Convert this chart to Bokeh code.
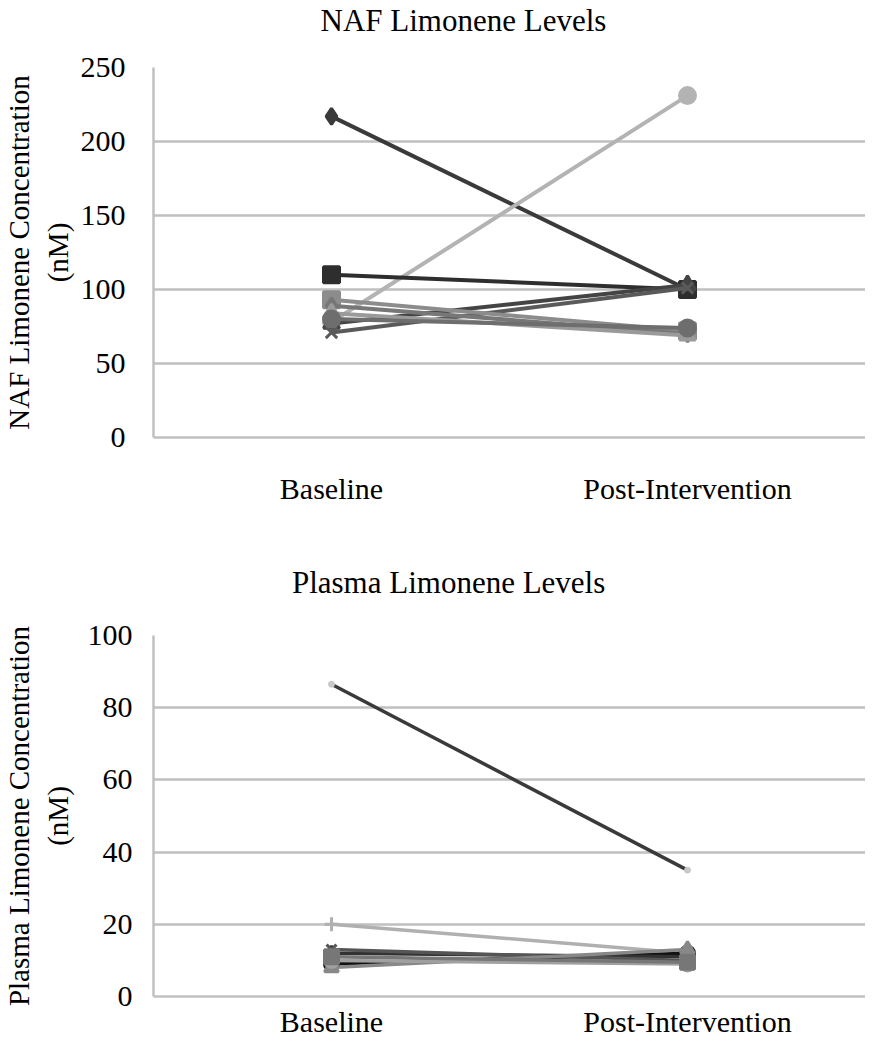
from bokeh.plotting import figure
from bokeh.models import FixedTicker, Range1d, ColumnDataSource
from bokeh.core.properties import value
from bokeh.layouts import column
from bokeh.embed import file_html
from bokeh.resources import INLINE

categories = ["Baseline", "Post-Intervention"]

# NAF limonene (nM): baseline, post-intervention per subject
naf_baseline = [217, 78, 110, 77, 71, 93, 89, 84, 80]
naf_post = [100, 231, 100, 103, 101, 72, 70, 69, 74]
naf_colors = ["#3a3a3a", "#b3b3b3", "#2e2e2e", "#444444", "#5a5a5a", "#8c8c8c", "#777777", "#9a9a9a", "#6e6e6e"]
naf_markers = ["diamond", "circle", "square", "triangle", "x", "square", "diamond", "triangle", "circle"]
naf_ticks = [0, 50, 100, 150, 200, 250]

# Plasma limonene (nM)
plasma_baseline = [86.5, 20, 9, 12, 13, 8, 10, 11]
plasma_post = [35, 12, 12, 11, 10, 13, 9, 9.5]
plasma_colors = ["#3a3a3a", "#b0b0b0", "#111111", "#333333", "#555555", "#888888", "#a0a0a0", "#777777"]
plasma_markers = ["dash", "cross", "circle", "diamond", "x", "triangle", "circle", "square"]
plasma_ticks = [0, 20, 40, 60, 80, 100]

FONT = "Liberation Serif"
GRID = "#c0c0c0"
W = 865


def title_fig(text, h, cx, cy):
    # title strip; its frame is aligned with the charts' frames (page x 154..873)
    t = figure(width=W, height=h, x_range=Range1d(154, 873), y_range=Range1d(0, h),
               output_backend="svg", toolbar_location=None,
               x_axis_location=None, y_axis_location=None, min_border=0)
    t.outline_line_color = None
    t.grid.grid_line_color = None
    t.text(x=[cx], y=[cy], text=[text], text_font=value(FONT), text_font_size="31px",
           text_align="center", text_baseline="middle", text_color="#000000")
    return t


def make_fig(ylabel, ymax, ticks, base, post, colors, markers, h, b_top, b_bottom,
             tick_standoff, ylab_standoff, xlab_standoff, lw, msize):
    p = figure(width=W, height=h, x_range=categories, y_range=Range1d(0, ymax),
               output_backend="svg", toolbar_location=None,
               min_border_left=146, min_border_right=0,
               min_border_top=b_top, min_border_bottom=b_bottom)
    p.outline_line_color = None
    p.xgrid.grid_line_color = None
    p.ygrid.grid_line_color = GRID
    p.ygrid.grid_line_width = 2.5
    p.yaxis.ticker = FixedTicker(ticks=ticks)
    for ax in (p.xaxis, p.yaxis):
        ax.axis_line_color = GRID
        ax.axis_line_width = 2.5
        ax.major_tick_line_color = None
        ax.minor_tick_line_color = None
        ax.major_label_text_font = FONT
        ax.major_label_text_font_size = "30px"
        ax.major_label_text_color = "#000000"
    p.yaxis.major_label_standoff = tick_standoff
    p.xaxis.major_label_standoff = xlab_standoff
    p.yaxis.axis_label = ylabel
    p.yaxis.axis_label_text_font = FONT
    p.yaxis.axis_label_text_font_size = "29px"
    p.yaxis.axis_label_text_font_style = "normal"
    p.yaxis.axis_label_text_color = "#000000"
    p.yaxis.axis_label_standoff = ylab_standoff
    for b, q, c, m in zip(base, post, colors, markers):
        src = ColumnDataSource(dict(x=categories, y=[b, q]))
        p.line("x", "y", source=src, line_color=c, line_width=lw)
        if m == "dash":
            p.scatter("x", "y", source=src, marker="circle", size=6,
                      fill_color="#c8c8c8", line_color="#c8c8c8")
        else:
            p.scatter("x", "y", source=src, marker=m, size=msize,
                      fill_color=c, line_color=c, line_width=3)
    return p


t1 = title_fig("NAF Limonene Levels", 44, 467, 24)
p1 = make_fig("NAF Limonene Concentration\n(nM)", 250, naf_ticks,
              naf_baseline, naf_post, naf_colors, naf_markers,
              h=489, b_top=23, b_bottom=96,
              tick_standoff=22, ylab_standoff=4, xlab_standoff=28, lw=4, msize=16)
t2 = title_fig("Plasma Limonene Levels", 70, 452, 21)
p2 = make_fig("Plasma Limonene Concentration\n(nM)", 100, plasma_ticks,
              plasma_baseline, plasma_post, plasma_colors, plasma_markers,
              h=437, b_top=32, b_bottom=44,
              tick_standoff=15, ylab_standoff=11, xlab_standoff=2, lw=3.5, msize=14)

layout = column(t1, p1, t2, p2, spacing=0)
open("out.html", "w").write(file_html(layout, INLINE))
